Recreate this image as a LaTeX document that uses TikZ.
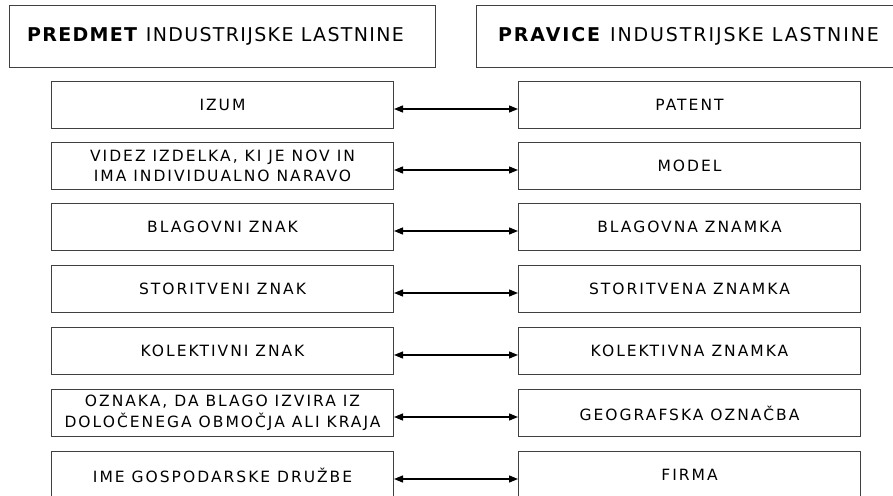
\documentclass[tikz,border=0pt]{standalone}
\usepackage{fontspec}
\setmainfont{DejaVu Sans}
\newfontfamily\headfont[LetterSpace=7]{DejaVu Sans}
\newfontfamily\headfontwide[LetterSpace=10]{DejaVu Sans}
\newfontfamily\boxfont[LetterSpace=13]{DejaVu Sans}
\usetikzlibrary{arrows.meta}

\begin{document}
\begin{tikzpicture}[x=1pt,y=-1pt,
	headbox/.style={draw=black!75, line width=1pt, minimum width=426pt, minimum height=62pt, anchor=north west, inner sep=0pt, font=\headfont\fontsize{19}{22}\selectfont},
	itembox/.style={draw=black!75, line width=1pt, minimum width=342pt, minimum height=47pt, anchor=north west, inner sep=0pt, align=center, font=\boxfont\fontsize{15.5}{20.5}\selectfont},
	link/.style={{Triangle[length=9pt,width=7pt]}-{Triangle[length=9pt,width=7pt]}, line width=1.3pt}]
	\useasboundingbox (0,0) rectangle (893,495);
	\clip (0,0) rectangle (893,495);
	\node[headbox] (hl) at (9,5){\textbf{PREDMET} INDUSTRIJSKE LASTNINE\hspace*{14pt}};
	\node[headbox, minimum width=424pt, font=\headfontwide\fontsize{19}{22}\selectfont] (hr) at (476,5){\textbf{PRAVICE} INDUSTRIJSKE LASTNINE};
	\node[itembox] (l1) at (51,81){IZUM};%1
	\node[itembox] (r1) at (518,81){PATENT};
	\node[itembox] (l2) at (51,142){VIDEZ IZDELKA, KI JE NOV IN\\IMA INDIVIDUALNO NARAVO};%2
	\node[itembox] (r2) at (518,142){MODEL};
	\node[itembox] (l3) at (51,203){BLAGOVNI ZNAK};%3
	\node[itembox] (r3) at (518,203){BLAGOVNA ZNAMKA};
	\node[itembox] (l4) at (51,265){STORITVENI ZNAK};%4
	\node[itembox] (r4) at (518,265){STORITVENA ZNAMKA};
	\node[itembox] (l5) at (51,327){KOLEKTIVNI ZNAK};%5
	\node[itembox] (r5) at (518,327){KOLEKTIVNA ZNAMKA};
	\node[itembox] (l6) at (51,389){OZNAKA, DA BLAGO IZVIRA IZ\\DOLOČENEGA OBMOČJA ALI KRAJA};%6
	\node[itembox] (r6) at (518,389){GEOGRAFSKA OZNAČBA};
	\node[itembox] (l7) at (51,451){IME GOSPODARSKE DRUŽBE};%7
	\node[itembox] (r7) at (518,451){FIRMA};
	\draw[link] ([yshift=-4pt]l1.east) -- ([yshift=-4pt]r1.west);
	\draw[link] ([yshift=-4pt]l2.east) -- ([yshift=-4pt]r2.west);
	\draw[link] ([yshift=-4pt]l3.east) -- ([yshift=-4pt]r3.west);
	\draw[link] ([yshift=-4pt]l4.east) -- ([yshift=-4pt]r4.west);
	\draw[link] ([yshift=-4pt]l5.east) -- ([yshift=-4pt]r5.west);
	\draw[link] ([yshift=-4pt]l6.east) -- ([yshift=-4pt]r6.west);
	\draw[link] ([yshift=-4pt]l7.east) -- ([yshift=-4pt]r7.west);
\end{tikzpicture}
\end{document}
